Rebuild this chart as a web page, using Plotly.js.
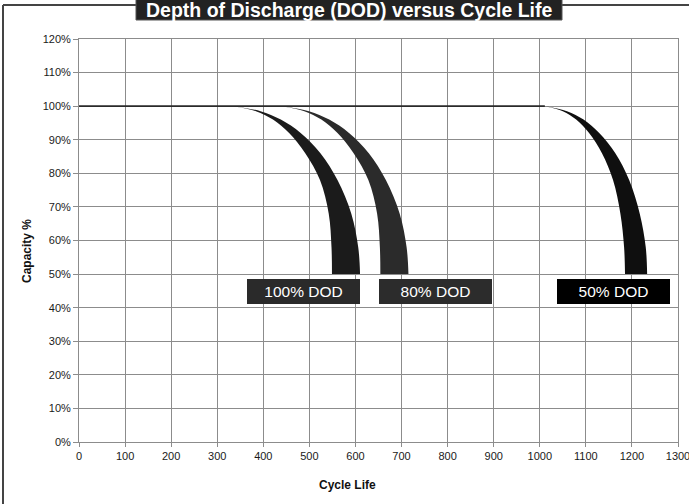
<!DOCTYPE html>
<html>
<head>
<meta charset="utf-8">
<script src="https://cdn.plot.ly/plotly-3.0.1.min.js"></script>
<style>html,body{margin:0;padding:0;background:#fff;}#chart{width:689px;height:504px;}</style>
</head>
<body>
<div id="chart"></div>
<script>
// Capacity levels (%) at which the band edges were read
var capLevels = [100, 98.5, 96, 92, 86, 78, 68, 58, 50];
// Cycle counts of the outer (right) and inner (left) edge of each DOD band
var dod100Outer = [335, 394, 438, 481, 524, 561, 591, 606, 610];
var dod100Inner = [335, 384, 421, 456, 491, 523, 542, 548, 549];
var dod80Outer  = [440, 499, 543, 586, 629, 666, 696, 711, 715];
var dod80Inner  = [440, 489, 526, 561, 596, 628, 647, 653, 654];
var dod50Outer  = [1011, 1059, 1095, 1129, 1164, 1194, 1217, 1230, 1233];
var dod50Inner  = [1011, 1050, 1079, 1107, 1135, 1159, 1175, 1183, 1185];
// Full-capacity line
var fullLineX = [0, 1011];
var fullLineY = [100, 100];
// Labels
var bandLabels = ['100% DOD', '80% DOD', '50% DOD'];
var titleText = 'Depth of Discharge (DOD) versus Cycle Life';
var xTitle = 'Cycle Life';
var yTitle = 'Capacity %';

var bandColors = ['#1b1b1b', '#2b2b2b', '#0f0f0f'];
var boxColors = ['#2a2a2a', '#2c2c2c', '#000000'];

function band(outer, inner, color) {
  return [
    {x: outer, y: capLevels, type: 'scatter', mode: 'lines',
     line: {width: 0, shape: 'spline', smoothing: 1, color: color}, hoverinfo: 'skip', showlegend: false},
    {x: inner, y: capLevels, type: 'scatter', mode: 'lines', fill: 'tonextx',
     fillcolor: color, line: {width: 0, shape: 'spline', smoothing: 1, color: color},
     hoverinfo: 'skip', showlegend: false}
  ];
}

var traces = [
  {x: fullLineX, y: fullLineY, type: 'scatter', mode: 'lines',
   line: {color: '#2a2a2a', width: 1.6}, hoverinfo: 'skip', showlegend: false}
].concat(band(dod100Outer, dod100Inner, bandColors[0]))
 .concat(band(dod80Outer, dod80Inner, bandColors[1]))
 .concat(band(dod50Outer, dod50Inner, bandColors[2]));

var L = 79, R = 11, T = 39, B = 62, W = 689, H = 504;
var pw = W - L - R, ph = H - T - B;
function px(x) { return (x - L) / pw; }
function py(y) { return (H - B - y) / ph; }

var tickFont = {family: 'Liberation Sans, Arial, sans-serif', size: 11, color: '#1a1a1a'};
var labelX = [487, 774, 1159];

var annotations = [
  {xref: 'paper', yref: 'paper', x: px(349), y: py(10.5), xanchor: 'center', yanchor: 'middle',
   text: titleText, showarrow: false,
   font: {family: 'Liberation Sans, Arial, sans-serif', size: 19.5, color: '#fff', weight: 'bold'}},
  {xref: 'paper', yref: 'paper', x: px(27), y: py(251), xanchor: 'center', yanchor: 'middle',
   text: yTitle, textangle: -90, showarrow: false,
   font: {family: 'Liberation Sans, Arial, sans-serif', size: 12, color: '#111', weight: 'bold'}},
  {xref: 'paper', yref: 'paper', x: px(347), y: py(485), xanchor: 'center', yanchor: 'middle',
   text: xTitle, showarrow: false,
   font: {family: 'Liberation Sans, Arial, sans-serif', size: 12, color: '#111', weight: 'bold'}}
];
bandLabels.forEach(function (t, i) {
  annotations.push({
    x: labelX[i], y: 44.8, xref: 'x', yref: 'y', text: t, showarrow: false,
    width: 113, height: 25, borderpad: 0, borderwidth: 0, bgcolor: boxColors[i],
    xanchor: 'center', yanchor: 'middle',
    font: {family: 'Liberation Sans, Arial, sans-serif', size: 15.5, color: '#fff'}
  });
});

var gridC = '#8c8c8c';
var layout = {
  width: W, height: H,
  margin: {l: L, r: R, t: T, b: B, pad: 0},
  paper_bgcolor: '#fff', plot_bgcolor: '#fff',
  showlegend: false,
  xaxis: {range: [0, 1300], tick0: 0, dtick: 100, showgrid: true, gridcolor: gridC, gridwidth: 1,
          showline: true, linecolor: gridC, linewidth: 1, mirror: true, zeroline: false,
          ticks: 'outside', ticklen: 4, tickcolor: gridC, tickfont: tickFont,
          ticklabeloverflow: 'allow', fixedrange: true},
  yaxis: {range: [0, 120], tick0: 0, dtick: 10, ticksuffix: '%', showgrid: true, gridcolor: gridC, gridwidth: 1,
          showline: true, linecolor: gridC, linewidth: 1, mirror: true, zeroline: false,
          ticks: 'outside', ticklen: 5, tickcolor: gridC, tickfont: tickFont,
          ticklabeloverflow: 'allow', fixedrange: true},
  shapes: [
    {type: 'line', xref: 'paper', yref: 'paper', x0: px(3), x1: px(689), y0: py(5), y1: py(5),
     line: {color: '#444', width: 2}, layer: 'above'},
    {type: 'line', xref: 'paper', yref: 'paper', x0: px(3), x1: px(3), y0: py(5), y1: py(504),
     line: {color: '#444', width: 2}, layer: 'above'},
    {type: 'rect', xref: 'paper', yref: 'paper', x0: px(136), x1: px(562), y0: py(20), y1: py(-5),
     line: {color: '#555', width: 1}, fillcolor: '#222', layer: 'above'}
  ],
  annotations: annotations
};

Plotly.newPlot('chart', traces, layout, {staticPlot: true, displayModeBar: false});
</script>
</body>
</html>
